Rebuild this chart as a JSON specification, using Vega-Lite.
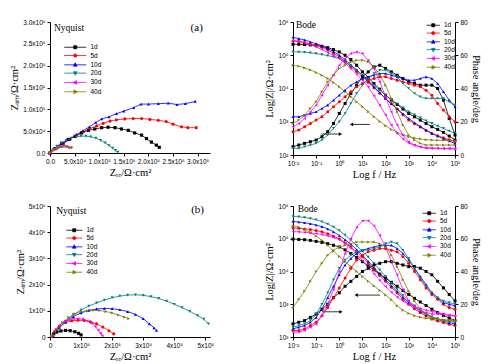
{
"$schema":"https://vega.github.io/schema/vega-lite/v6.json",
"background":"white",
"padding":{"left":9,"top":19,"right":5,"bottom":2},
"datasets":{
"nyqA":[
{"s":"1d","x":0,"y":0},{"s":"1d","x":10000,"y":10000},{"s":"1d","x":24000,"y":22000},{"s":"1d","x":37000,"y":31000},{"s":"1d","x":51000,"y":38000},{"s":"1d","x":64000,"y":46000},{"s":"1d","x":78000,"y":52000},{"s":"1d","x":91000,"y":55000},{"s":"1d","x":105000,"y":58000},{"s":"1d","x":118000,"y":59000},{"s":"1d","x":132000,"y":58000},{"s":"1d","x":145000,"y":55000},{"s":"1d","x":159000,"y":52000},{"s":"1d","x":172000,"y":46000},{"s":"1d","x":186000,"y":41000},{"s":"1d","x":196000,"y":33000},{"s":"1d","x":206000,"y":25000},{"s":"1d","x":216000,"y":18000},{"s":"1d","x":222000,"y":13000},
{"s":"5d","x":0,"y":0},{"s":"5d","x":13500,"y":11500},{"s":"5d","x":27000,"y":21500},{"s":"5d","x":40500,"y":31500},{"s":"5d","x":54000,"y":41000},{"s":"5d","x":68000,"y":48500},{"s":"5d","x":81000,"y":56000},{"s":"5d","x":95000,"y":62500},{"s":"5d","x":108000,"y":68000},{"s":"5d","x":122000,"y":73000},{"s":"5d","x":135000,"y":76000},{"s":"5d","x":152000,"y":78000},{"s":"5d","x":169000,"y":79000},{"s":"5d","x":186000,"y":79000},{"s":"5d","x":203000,"y":77000},{"s":"5d","x":220000,"y":75000},{"s":"5d","x":236000,"y":72000},{"s":"5d","x":250000,"y":66000},{"s":"5d","x":267000,"y":60000},{"s":"5d","x":280000,"y":58000},{"s":"5d","x":297000,"y":58000},
{"s":"10d","x":0,"y":0},{"s":"10d","x":13000,"y":12000},{"s":"10d","x":27000,"y":22000},{"s":"10d","x":40000,"y":32000},{"s":"10d","x":54000,"y":42000},{"s":"10d","x":67000,"y":51000},{"s":"10d","x":80000,"y":60000},{"s":"10d","x":93000,"y":70000},{"s":"10d","x":105000,"y":78000},{"s":"10d","x":120000,"y":83000},{"s":"10d","x":135000,"y":90000},{"s":"10d","x":150000,"y":96000},{"s":"10d","x":170000,"y":104000},{"s":"10d","x":185000,"y":112000},{"s":"10d","x":200000,"y":112000},{"s":"10d","x":220000,"y":113000},{"s":"10d","x":240000,"y":114000},{"s":"10d","x":258000,"y":111000},{"s":"10d","x":275000,"y":113000},{"s":"10d","x":295000,"y":118000},
{"s":"20d","x":0,"y":0},{"s":"20d","x":6000,"y":8000},{"s":"20d","x":14000,"y":16000},{"s":"20d","x":23000,"y":23000},{"s":"20d","x":33000,"y":29000},{"s":"20d","x":43000,"y":34000},{"s":"20d","x":53000,"y":37000},{"s":"20d","x":63000,"y":38500},{"s":"20d","x":73000,"y":38500},{"s":"20d","x":83000,"y":37000},{"s":"20d","x":93000,"y":34000},{"s":"20d","x":103000,"y":29000},{"s":"20d","x":112000,"y":23000},{"s":"20d","x":120000,"y":17000},{"s":"20d","x":127000,"y":11000},{"s":"20d","x":133000,"y":6000},{"s":"20d","x":138000,"y":2000},
{"s":"30d","x":0,"y":0},{"s":"30d","x":4000,"y":5000},{"s":"30d","x":8000,"y":8000},{"s":"30d","x":12000,"y":11000},{"s":"30d","x":16000,"y":13000},{"s":"30d","x":20000,"y":15000},{"s":"30d","x":25000,"y":16000},{"s":"30d","x":30000,"y":16000},{"s":"30d","x":34000,"y":15000},{"s":"30d","x":38000,"y":13000},{"s":"30d","x":42000,"y":12000},
{"s":"40d","x":0,"y":0},{"s":"40d","x":5000,"y":5000},{"s":"40d","x":10000,"y":8000},{"s":"40d","x":15000,"y":11000},{"s":"40d","x":20000,"y":13000},{"s":"40d","x":25000,"y":14000},{"s":"40d","x":30000,"y":15000},{"s":"40d","x":35000,"y":14000},{"s":"40d","x":40000,"y":13000},{"s":"40d","x":45000,"y":13000}
],
"nyqB":[
{"s":"1d","x":5000,"y":2000},{"s":"1d","x":12000,"y":12000},{"s":"1d","x":22000,"y":19000},{"s":"1d","x":35000,"y":23000},{"s":"1d","x":50000,"y":25000},{"s":"1d","x":65000,"y":24000},{"s":"1d","x":80000,"y":20000},{"s":"1d","x":92000,"y":14000},{"s":"1d","x":100000,"y":8000},
{"s":"5d","x":5000,"y":3000},{"s":"5d","x":15000,"y":20000},{"s":"5d","x":30000,"y":40000},{"s":"5d","x":50000,"y":55000},{"s":"5d","x":70000,"y":62000},{"s":"5d","x":90000,"y":64000},{"s":"5d","x":110000,"y":63000},{"s":"5d","x":130000,"y":58000},{"s":"5d","x":150000,"y":50000},{"s":"5d","x":170000,"y":38000},{"s":"5d","x":190000,"y":24000},{"s":"5d","x":205000,"y":12000},
{"s":"10d","x":10000,"y":5000},{"s":"10d","x":30000,"y":35000},{"s":"10d","x":50000,"y":58000},{"s":"10d","x":75000,"y":78000},{"s":"10d","x":100000,"y":92000},{"s":"10d","x":125000,"y":102000},{"s":"10d","x":150000,"y":107000},{"s":"10d","x":175000,"y":109000},{"s":"10d","x":200000,"y":108000},{"s":"10d","x":225000,"y":104000},{"s":"10d","x":250000,"y":97000},{"s":"10d","x":275000,"y":86000},{"s":"10d","x":300000,"y":70000},{"s":"10d","x":320000,"y":50000},{"s":"10d","x":335000,"y":35000},{"s":"10d","x":343000,"y":25000},
{"s":"20d","x":10000,"y":5000},{"s":"20d","x":30000,"y":35000},{"s":"20d","x":50000,"y":60000},{"s":"20d","x":75000,"y":85000},{"s":"20d","x":100000,"y":103000},{"s":"20d","x":125000,"y":118000},{"s":"20d","x":150000,"y":130000},{"s":"20d","x":175000,"y":141000},{"s":"20d","x":200000,"y":150000},{"s":"20d","x":225000,"y":156000},{"s":"20d","x":250000,"y":160000},{"s":"20d","x":275000,"y":161000},{"s":"20d","x":300000,"y":159000},{"s":"20d","x":325000,"y":154000},{"s":"20d","x":350000,"y":147000},{"s":"20d","x":375000,"y":137000},{"s":"20d","x":400000,"y":125000},{"s":"20d","x":425000,"y":112000},{"s":"20d","x":450000,"y":98000},{"s":"20d","x":475000,"y":82000},{"s":"20d","x":495000,"y":68000},{"s":"20d","x":510000,"y":50000},
{"s":"30d","x":5000,"y":3000},{"s":"30d","x":15000,"y":25000},{"s":"30d","x":30000,"y":45000},{"s":"30d","x":45000,"y":58000},{"s":"30d","x":60000,"y":66000},{"s":"30d","x":75000,"y":70000},{"s":"30d","x":90000,"y":70000},{"s":"30d","x":105000,"y":68000},{"s":"30d","x":120000,"y":62000},{"s":"30d","x":135000,"y":52000},{"s":"30d","x":145000,"y":40000},{"s":"30d","x":155000,"y":27000},{"s":"30d","x":162000,"y":15000},{"s":"30d","x":168000,"y":5000},
{"s":"40d","x":5000,"y":5000},{"s":"40d","x":20000,"y":30000},{"s":"40d","x":40000,"y":55000},{"s":"40d","x":60000,"y":75000},{"s":"40d","x":80000,"y":88000},{"s":"40d","x":100000,"y":96000},{"s":"40d","x":120000,"y":100000},{"s":"40d","x":140000,"y":102000},{"s":"40d","x":160000,"y":101000},{"s":"40d","x":180000,"y":97000},{"s":"40d","x":200000,"y":92000},{"s":"40d","x":220000,"y":84000},{"s":"40d","x":240000,"y":76000},{"s":"40d","x":253000,"y":70000}
],
"bodeA":[
{"s":"1d","f":-2,"z":5.33,"p":5},{"s":"1d","f":-1.75,"z":5.33,"p":6},{"s":"1d","f":-1.5,"z":5.32,"p":7},{"s":"1d","f":-1.25,"z":5.31,"p":8},{"s":"1d","f":-1,"z":5.3,"p":9},{"s":"1d","f":-0.75,"z":5.27,"p":11},{"s":"1d","f":-0.5,"z":5.23,"p":14},{"s":"1d","f":-0.25,"z":5.17,"p":19},{"s":"1d","f":0,"z":5.1,"p":25},{"s":"1d","f":0.25,"z":5.0,"p":31},{"s":"1d","f":0.5,"z":4.87,"p":37},{"s":"1d","f":0.75,"z":4.7,"p":42},{"s":"1d","f":1,"z":4.5,"p":47},{"s":"1d","f":1.25,"z":4.33,"p":50},{"s":"1d","f":1.5,"z":4.15,"p":53},{"s":"1d","f":1.75,"z":3.98,"p":54},{"s":"1d","f":2,"z":3.8,"p":52},{"s":"1d","f":2.25,"z":3.65,"p":50},{"s":"1d","f":2.5,"z":3.52,"p":48},{"s":"1d","f":2.75,"z":3.38,"p":46},{"s":"1d","f":3,"z":3.25,"p":44},{"s":"1d","f":3.25,"z":3.15,"p":43},{"s":"1d","f":3.5,"z":3.05,"p":42},{"s":"1d","f":3.75,"z":2.95,"p":42},{"s":"1d","f":4,"z":2.85,"p":42},{"s":"1d","f":4.25,"z":2.77,"p":40},{"s":"1d","f":4.5,"z":2.68,"p":33},{"s":"1d","f":4.75,"z":2.57,"p":22},{"s":"1d","f":5,"z":2.45,"p":12},
{"s":"5d","f":-2,"z":5.43,"p":14},{"s":"5d","f":-1.75,"z":5.41,"p":15},{"s":"5d","f":-1.5,"z":5.38,"p":17},{"s":"5d","f":-1.25,"z":5.34,"p":19},{"s":"5d","f":-1,"z":5.3,"p":21},{"s":"5d","f":-0.75,"z":5.24,"p":23},{"s":"5d","f":-0.5,"z":5.16,"p":26},{"s":"5d","f":-0.25,"z":5.06,"p":29},{"s":"5d","f":0,"z":4.95,"p":32},{"s":"5d","f":0.25,"z":4.81,"p":35},{"s":"5d","f":0.5,"z":4.66,"p":38},{"s":"5d","f":0.75,"z":4.51,"p":41},{"s":"5d","f":1,"z":4.35,"p":43},{"s":"5d","f":1.25,"z":4.19,"p":45},{"s":"5d","f":1.5,"z":4.02,"p":46},{"s":"5d","f":1.75,"z":3.86,"p":47},{"s":"5d","f":2,"z":3.7,"p":47},{"s":"5d","f":2.25,"z":3.54,"p":46},{"s":"5d","f":2.5,"z":3.38,"p":45},{"s":"5d","f":2.75,"z":3.21,"p":44},{"s":"5d","f":3,"z":3.05,"p":43},{"s":"5d","f":3.25,"z":2.94,"p":42},{"s":"5d","f":3.5,"z":2.84,"p":41},{"s":"5d","f":3.75,"z":2.74,"p":39},{"s":"5d","f":4,"z":2.65,"p":36},{"s":"5d","f":4.25,"z":2.58,"p":31},{"s":"5d","f":4.5,"z":2.52,"p":27},{"s":"5d","f":4.75,"z":2.46,"p":23},{"s":"5d","f":5,"z":2.4,"p":20},
{"s":"10d","f":-2,"z":5.54,"p":23},{"s":"10d","f":-1.75,"z":5.5,"p":23},{"s":"10d","f":-1.5,"z":5.46,"p":24},{"s":"10d","f":-1.25,"z":5.4,"p":25},{"s":"10d","f":-1,"z":5.35,"p":26},{"s":"10d","f":-0.75,"z":5.28,"p":28},{"s":"10d","f":-0.5,"z":5.2,"p":30},{"s":"10d","f":-0.25,"z":5.11,"p":33},{"s":"10d","f":0,"z":5.0,"p":36},{"s":"10d","f":0.25,"z":4.86,"p":39},{"s":"10d","f":0.5,"z":4.71,"p":42},{"s":"10d","f":0.75,"z":4.56,"p":44},{"s":"10d","f":1,"z":4.4,"p":46},{"s":"10d","f":1.25,"z":4.22,"p":47},{"s":"10d","f":1.5,"z":4.05,"p":48},{"s":"10d","f":1.75,"z":3.87,"p":49},{"s":"10d","f":2,"z":3.7,"p":49},{"s":"10d","f":2.25,"z":3.54,"p":48},{"s":"10d","f":2.5,"z":3.39,"p":47},{"s":"10d","f":2.75,"z":3.24,"p":46},{"s":"10d","f":3,"z":3.1,"p":45},{"s":"10d","f":3.25,"z":2.97,"p":45},{"s":"10d","f":3.5,"z":2.86,"p":46},{"s":"10d","f":3.75,"z":2.75,"p":47},{"s":"10d","f":4,"z":2.65,"p":46},{"s":"10d","f":4.25,"z":2.57,"p":43},{"s":"10d","f":4.5,"z":2.49,"p":38},{"s":"10d","f":4.75,"z":2.42,"p":33},{"s":"10d","f":5,"z":2.35,"p":29},
{"s":"20d","f":-2,"z":5.1,"p":4},{"s":"20d","f":-1.75,"z":5.1,"p":4},{"s":"20d","f":-1.5,"z":5.09,"p":5},{"s":"20d","f":-1.25,"z":5.07,"p":6},{"s":"20d","f":-1,"z":5.05,"p":7},{"s":"20d","f":-0.75,"z":5.02,"p":9},{"s":"20d","f":-0.5,"z":4.99,"p":12},{"s":"20d","f":-0.25,"z":4.95,"p":16},{"s":"20d","f":0,"z":4.9,"p":20},{"s":"20d","f":0.25,"z":4.8,"p":25},{"s":"20d","f":0.5,"z":4.68,"p":31},{"s":"20d","f":0.75,"z":4.55,"p":37},{"s":"20d","f":1,"z":4.4,"p":42},{"s":"20d","f":1.25,"z":4.25,"p":46},{"s":"20d","f":1.5,"z":4.1,"p":49},{"s":"20d","f":1.75,"z":3.95,"p":51},{"s":"20d","f":2,"z":3.8,"p":51},{"s":"20d","f":2.25,"z":3.67,"p":49},{"s":"20d","f":2.5,"z":3.54,"p":47},{"s":"20d","f":2.75,"z":3.42,"p":43},{"s":"20d","f":3,"z":3.3,"p":40},{"s":"20d","f":3.25,"z":3.21,"p":37},{"s":"20d","f":3.5,"z":3.12,"p":35},{"s":"20d","f":3.75,"z":3.03,"p":34},{"s":"20d","f":4,"z":2.95,"p":34},{"s":"20d","f":4.25,"z":2.87,"p":34},{"s":"20d","f":4.5,"z":2.8,"p":34},{"s":"20d","f":4.75,"z":2.72,"p":32},{"s":"20d","f":5,"z":2.65,"p":30},
{"s":"30d","f":-2,"z":5.45,"p":17},{"s":"30d","f":-1.75,"z":5.42,"p":19},{"s":"30d","f":-1.5,"z":5.38,"p":22},{"s":"30d","f":-1.25,"z":5.32,"p":26},{"s":"30d","f":-1,"z":5.25,"p":30},{"s":"30d","f":-0.75,"z":5.17,"p":36},{"s":"30d","f":-0.5,"z":5.08,"p":42},{"s":"30d","f":-0.25,"z":4.99,"p":48},{"s":"30d","f":0,"z":4.9,"p":54},{"s":"30d","f":0.25,"z":4.76,"p":58},{"s":"30d","f":0.5,"z":4.6,"p":61},{"s":"30d","f":0.75,"z":4.43,"p":62},{"s":"30d","f":1,"z":4.25,"p":61},{"s":"30d","f":1.25,"z":4.05,"p":57},{"s":"30d","f":1.5,"z":3.78,"p":52},{"s":"30d","f":1.75,"z":3.5,"p":44},{"s":"30d","f":2,"z":3.2,"p":35},{"s":"30d","f":2.25,"z":2.9,"p":26},{"s":"30d","f":2.5,"z":2.65,"p":18},{"s":"30d","f":2.75,"z":2.48,"p":12},{"s":"30d","f":3,"z":2.36,"p":8},{"s":"30d","f":3.25,"z":2.29,"p":6},{"s":"30d","f":3.5,"z":2.25,"p":5},{"s":"30d","f":3.75,"z":2.22,"p":4},{"s":"30d","f":4,"z":2.21,"p":4},{"s":"30d","f":4.25,"z":2.2,"p":4},{"s":"30d","f":4.5,"z":2.19,"p":4},{"s":"30d","f":4.75,"z":2.19,"p":4},{"s":"30d","f":5,"z":2.18,"p":4},
{"s":"40d","f":-2,"z":4.7,"p":19},{"s":"40d","f":-1.75,"z":4.67,"p":21},{"s":"40d","f":-1.5,"z":4.62,"p":24},{"s":"40d","f":-1.25,"z":4.56,"p":28},{"s":"40d","f":-1,"z":4.48,"p":32},{"s":"40d","f":-0.75,"z":4.4,"p":38},{"s":"40d","f":-0.5,"z":4.3,"p":44},{"s":"40d","f":-0.25,"z":4.18,"p":48},{"s":"40d","f":0,"z":4.05,"p":52},{"s":"40d","f":0.25,"z":3.9,"p":54},{"s":"40d","f":0.5,"z":3.75,"p":56},{"s":"40d","f":0.75,"z":3.6,"p":57},{"s":"40d","f":1,"z":3.45,"p":57},{"s":"40d","f":1.25,"z":3.3,"p":56},{"s":"40d","f":1.5,"z":3.15,"p":53},{"s":"40d","f":1.75,"z":3.01,"p":48},{"s":"40d","f":2,"z":2.88,"p":42},{"s":"40d","f":2.25,"z":2.77,"p":34},{"s":"40d","f":2.5,"z":2.68,"p":26},{"s":"40d","f":2.75,"z":2.61,"p":18},{"s":"40d","f":3,"z":2.55,"p":12},{"s":"40d","f":3.25,"z":2.51,"p":9},{"s":"40d","f":3.5,"z":2.48,"p":7},{"s":"40d","f":3.75,"z":2.46,"p":6},{"s":"40d","f":4,"z":2.45,"p":6},{"s":"40d","f":4.25,"z":2.44,"p":6},{"s":"40d","f":4.5,"z":2.44,"p":6},{"s":"40d","f":4.75,"z":2.43,"p":6},{"s":"40d","f":5,"z":2.43,"p":6}
],
"bodeB":[
{"s":"1d","f":-2,"z":4.99,"p":8},{"s":"1d","f":-1.75,"z":4.98,"p":9},{"s":"1d","f":-1.5,"z":4.97,"p":10},{"s":"1d","f":-1.25,"z":4.95,"p":12},{"s":"1d","f":-1,"z":4.92,"p":14},{"s":"1d","f":-0.75,"z":4.89,"p":17},{"s":"1d","f":-0.5,"z":4.85,"p":20},{"s":"1d","f":-0.25,"z":4.8,"p":24},{"s":"1d","f":0,"z":4.75,"p":27},{"s":"1d","f":0.25,"z":4.66,"p":31},{"s":"1d","f":0.5,"z":4.55,"p":34},{"s":"1d","f":0.75,"z":4.43,"p":37},{"s":"1d","f":1,"z":4.3,"p":40},{"s":"1d","f":1.25,"z":4.17,"p":42},{"s":"1d","f":1.5,"z":4.05,"p":44},{"s":"1d","f":1.75,"z":3.92,"p":45},{"s":"1d","f":2,"z":3.8,"p":46},{"s":"1d","f":2.25,"z":3.67,"p":46},{"s":"1d","f":2.5,"z":3.55,"p":45},{"s":"1d","f":2.75,"z":3.42,"p":44},{"s":"1d","f":3,"z":3.3,"p":43},{"s":"1d","f":3.25,"z":3.18,"p":43},{"s":"1d","f":3.5,"z":3.07,"p":42},{"s":"1d","f":3.75,"z":2.96,"p":40},{"s":"1d","f":4,"z":2.85,"p":38},{"s":"1d","f":4.25,"z":2.75,"p":34},{"s":"1d","f":4.5,"z":2.66,"p":30},{"s":"1d","f":4.75,"z":2.58,"p":26},{"s":"1d","f":5,"z":2.5,"p":22},
{"s":"5d","f":-2,"z":5.33,"p":4},{"s":"5d","f":-1.75,"z":5.32,"p":4},{"s":"5d","f":-1.5,"z":5.3,"p":5},{"s":"5d","f":-1.25,"z":5.28,"p":7},{"s":"5d","f":-1,"z":5.25,"p":9},{"s":"5d","f":-0.75,"z":5.21,"p":13},{"s":"5d","f":-0.5,"z":5.15,"p":18},{"s":"5d","f":-0.25,"z":5.08,"p":24},{"s":"5d","f":0,"z":5.0,"p":30},{"s":"5d","f":0.25,"z":4.88,"p":36},{"s":"5d","f":0.5,"z":4.75,"p":42},{"s":"5d","f":0.75,"z":4.6,"p":47},{"s":"5d","f":1,"z":4.45,"p":50},{"s":"5d","f":1.25,"z":4.26,"p":52},{"s":"5d","f":1.5,"z":4.07,"p":53},{"s":"5d","f":1.75,"z":3.88,"p":54},{"s":"5d","f":2,"z":3.7,"p":54},{"s":"5d","f":2.25,"z":3.52,"p":53},{"s":"5d","f":2.5,"z":3.34,"p":52},{"s":"5d","f":2.75,"z":3.16,"p":49},{"s":"5d","f":3,"z":3.0,"p":45},{"s":"5d","f":3.25,"z":2.86,"p":40},{"s":"5d","f":3.5,"z":2.74,"p":35},{"s":"5d","f":3.75,"z":2.64,"p":30},{"s":"5d","f":4,"z":2.55,"p":26},{"s":"5d","f":4.25,"z":2.49,"p":23},{"s":"5d","f":4.5,"z":2.44,"p":20},{"s":"5d","f":4.75,"z":2.39,"p":18},{"s":"5d","f":5,"z":2.35,"p":17},
{"s":"10d","f":-2,"z":5.53,"p":5},{"s":"10d","f":-1.75,"z":5.51,"p":6},{"s":"10d","f":-1.5,"z":5.49,"p":7},{"s":"10d","f":-1.25,"z":5.46,"p":9},{"s":"10d","f":-1,"z":5.42,"p":12},{"s":"10d","f":-0.75,"z":5.37,"p":17},{"s":"10d","f":-0.5,"z":5.3,"p":24},{"s":"10d","f":-0.25,"z":5.21,"p":31},{"s":"10d","f":0,"z":5.1,"p":38},{"s":"10d","f":0.25,"z":4.97,"p":44},{"s":"10d","f":0.5,"z":4.83,"p":48},{"s":"10d","f":0.75,"z":4.67,"p":51},{"s":"10d","f":1,"z":4.5,"p":53},{"s":"10d","f":1.25,"z":4.31,"p":54},{"s":"10d","f":1.5,"z":4.12,"p":55},{"s":"10d","f":1.75,"z":3.93,"p":56},{"s":"10d","f":2,"z":3.75,"p":56},{"s":"10d","f":2.25,"z":3.57,"p":56},{"s":"10d","f":2.5,"z":3.39,"p":54},{"s":"10d","f":2.75,"z":3.21,"p":51},{"s":"10d","f":3,"z":3.05,"p":47},{"s":"10d","f":3.25,"z":2.91,"p":42},{"s":"10d","f":3.5,"z":2.79,"p":37},{"s":"10d","f":3.75,"z":2.69,"p":32},{"s":"10d","f":4,"z":2.6,"p":27},{"s":"10d","f":4.25,"z":2.54,"p":24},{"s":"10d","f":4.5,"z":2.48,"p":21},{"s":"10d","f":4.75,"z":2.44,"p":20},{"s":"10d","f":5,"z":2.4,"p":19},
{"s":"20d","f":-2,"z":5.68,"p":6},{"s":"20d","f":-1.75,"z":5.67,"p":7},{"s":"20d","f":-1.5,"z":5.65,"p":8},{"s":"20d","f":-1.25,"z":5.62,"p":10},{"s":"20d","f":-1,"z":5.58,"p":14},{"s":"20d","f":-0.75,"z":5.52,"p":20},{"s":"20d","f":-0.5,"z":5.45,"p":27},{"s":"20d","f":-0.25,"z":5.36,"p":35},{"s":"20d","f":0,"z":5.25,"p":42},{"s":"20d","f":0.25,"z":5.11,"p":47},{"s":"20d","f":0.5,"z":4.96,"p":50},{"s":"20d","f":0.75,"z":4.79,"p":52},{"s":"20d","f":1,"z":4.62,"p":53},{"s":"20d","f":1.25,"z":4.44,"p":53},{"s":"20d","f":1.5,"z":4.25,"p":54},{"s":"20d","f":1.75,"z":4.05,"p":55},{"s":"20d","f":2,"z":3.85,"p":57},{"s":"20d","f":2.25,"z":3.65,"p":58},{"s":"20d","f":2.5,"z":3.45,"p":57},{"s":"20d","f":2.75,"z":3.27,"p":53},{"s":"20d","f":3,"z":3.1,"p":48},{"s":"20d","f":3.25,"z":2.95,"p":42},{"s":"20d","f":3.5,"z":2.82,"p":36},{"s":"20d","f":3.75,"z":2.71,"p":31},{"s":"20d","f":4,"z":2.62,"p":27},{"s":"20d","f":4.25,"z":2.56,"p":24},{"s":"20d","f":4.5,"z":2.51,"p":22},{"s":"20d","f":4.75,"z":2.48,"p":21},{"s":"20d","f":5,"z":2.45,"p":20},
{"s":"30d","f":-2,"z":5.22,"p":3},{"s":"30d","f":-1.75,"z":5.21,"p":3},{"s":"30d","f":-1.5,"z":5.2,"p":4},{"s":"30d","f":-1.25,"z":5.18,"p":6},{"s":"30d","f":-1,"z":5.16,"p":8},{"s":"30d","f":-0.75,"z":5.13,"p":13},{"s":"30d","f":-0.5,"z":5.09,"p":20},{"s":"30d","f":-0.25,"z":5.04,"p":29},{"s":"30d","f":0,"z":4.97,"p":40},{"s":"30d","f":0.25,"z":4.86,"p":51},{"s":"30d","f":0.5,"z":4.72,"p":60},{"s":"30d","f":0.75,"z":4.53,"p":67},{"s":"30d","f":1,"z":4.33,"p":71},{"s":"30d","f":1.25,"z":4.13,"p":71},{"s":"30d","f":1.5,"z":3.93,"p":68},{"s":"30d","f":1.75,"z":3.73,"p":62},{"s":"30d","f":2,"z":3.54,"p":55},{"s":"30d","f":2.25,"z":3.37,"p":46},{"s":"30d","f":2.5,"z":3.22,"p":38},{"s":"30d","f":2.75,"z":3.1,"p":29},{"s":"30d","f":3,"z":3.0,"p":22},{"s":"30d","f":3.25,"z":2.93,"p":18},{"s":"30d","f":3.5,"z":2.87,"p":16},{"s":"30d","f":3.75,"z":2.82,"p":15},{"s":"30d","f":4,"z":2.78,"p":14},{"s":"30d","f":4.25,"z":2.74,"p":14},{"s":"30d","f":4.5,"z":2.7,"p":14},{"s":"30d","f":4.75,"z":2.67,"p":13},{"s":"30d","f":5,"z":2.64,"p":13},
{"s":"40d","f":-2,"z":5.4,"p":18},{"s":"40d","f":-1.75,"z":5.35,"p":23},{"s":"40d","f":-1.5,"z":5.28,"p":28},{"s":"40d","f":-1.25,"z":5.19,"p":34},{"s":"40d","f":-1,"z":5.08,"p":40},{"s":"40d","f":-0.75,"z":4.95,"p":45},{"s":"40d","f":-0.5,"z":4.8,"p":50},{"s":"40d","f":-0.25,"z":4.62,"p":53},{"s":"40d","f":0,"z":4.46,"p":55},{"s":"40d","f":0.25,"z":4.3,"p":56},{"s":"40d","f":0.5,"z":4.15,"p":57},{"s":"40d","f":0.75,"z":4.0,"p":58},{"s":"40d","f":1,"z":3.85,"p":58},{"s":"40d","f":1.25,"z":3.7,"p":58},{"s":"40d","f":1.5,"z":3.56,"p":58},{"s":"40d","f":1.75,"z":3.42,"p":57},{"s":"40d","f":2,"z":3.28,"p":55},{"s":"40d","f":2.25,"z":3.14,"p":50},{"s":"40d","f":2.5,"z":2.95,"p":43},{"s":"40d","f":2.75,"z":2.82,"p":35},{"s":"40d","f":3,"z":2.72,"p":28},{"s":"40d","f":3.25,"z":2.65,"p":22},{"s":"40d","f":3.5,"z":2.6,"p":17},{"s":"40d","f":3.75,"z":2.57,"p":14},{"s":"40d","f":4,"z":2.55,"p":12},{"s":"40d","f":4.25,"z":2.54,"p":11},{"s":"40d","f":4.5,"z":2.53,"p":10},{"s":"40d","f":4.75,"z":2.52,"p":10},{"s":"40d","f":5,"z":2.52,"p":10}
]
},
"columns":2,
"bounds":"flush",
"spacing":{"row":51,"column":83},
"resolve":{"scale":{"color":"independent","shape":"independent"},"legend":{"color":"independent"}},
"concat":[
{
"width":160,"height":131,
"data":{"name":"nyqA"},
"encoding":{
"x":{"field":"x","type":"quantitative","scale":{"domain":[0,325000],"nice":false},"axis":{"values":[0,50000,100000,150000,200000,250000,300000],"labelExpr":"datum.value==0?'0.0':datum.value<100000?format(datum.value/10000,'.1f')+'x10⁴':format(datum.value/100000,'.1f')+'x10⁵'","title":"Zᵣₑ/Ω·cm²"}},
"y":{"field":"y","type":"quantitative","scale":{"domain":[0,300000],"nice":false},"axis":{"values":[0,50000,100000,150000,200000,250000,300000],"labelExpr":"datum.value==0?'0.0':datum.value<100000?format(datum.value/10000,'.1f')+'x10⁴':format(datum.value/100000,'.1f')+'x10⁵'","title":"Zᵢₘ/Ω·cm²"}},
"color":{"field":"s","type":"nominal","scale":{"domain":["1d","5d","10d","20d","30d","40d"],"range":["#000000","#ff0000","#0000ff","#008080","#ff00ff","#808000"]},
"legend":{"title":null,"orient":"top-left","offset":22,"padding":0,"rowPadding":1.3,"labelFontSize":6.5,"labelFont":"Liberation Sans","labelOffset":12,"symbolSize":16,"symbolStrokeWidth":0.8,"symbolOpacity":1,
"encode":{"symbols":{"update":{"shape":{"signal":"datum.value=='1d'?'M-5.5,0H5.5M-0.75,-0.75H0.75V0.75H-0.75Z':datum.value=='5d'?'M-5.5,0H5.5M-0.8,0A0.8,0.8,0,1,0,0.8,0A0.8,0.8,0,1,0,-0.8,0Z':datum.value=='10d'?'M-5.5,0H5.5M0,-1L0.9,0.65H-0.9Z':datum.value=='20d'?'M-5.5,0H5.5M0,1L0.9,-0.65H-0.9Z':datum.value=='30d'?'M-5.5,0H5.5M-1,0L0.65,-0.9V0.9Z':'M-5.5,0H5.5M1,0L-0.65,-0.9V0.9Z'"}}}}}}
},
"layer":[
{"mark":{"type":"line","strokeWidth":0.8}},
{"mark":{"type":"point","filled":true,"size":10,"opacity":1},"encoding":{"shape":{"field":"s","type":"nominal","scale":{"domain":["40d","30d","20d","10d","5d","1d"],"range":["triangle-right","triangle-left","triangle-down","triangle-up","circle","square"]},"legend":null}}},
{"data":{"values":[{"x":8000,"y":287000,"t":"Nyquist"}]},"mark":{"type":"text","align":"left","baseline":"middle","font":"Liberation Serif","fontSize":9.5},"encoding":{"text":{"field":"t"},"color":{"value":"black"}}},
{"data":{"values":[{"x":298000,"y":287000,"t":"(a)"}]},"mark":{"type":"text","align":"center","baseline":"middle","font":"Liberation Serif","fontSize":11},"encoding":{"text":{"field":"t"},"color":{"value":"black"}}}
]
},
{
"width":162,"height":133,
"data":{"name":"bodeA"},
"encoding":{
"x":{"field":"f","type":"quantitative","scale":{"domain":[-2,5],"nice":false},"axis":{"values":[-2,-1,0,1,2,3,4,5],"labelExpr":"'10'+(datum.value<0?'⁻':'')+substring('⁰¹²³⁴⁵⁶',abs(datum.value),abs(datum.value)+1)","title":"Log f / Hz"}},
"color":{"field":"s","type":"nominal","scale":{"domain":["1d","5d","10d","20d","30d","40d"],"range":["#000000","#ff0000","#0000ff","#008080","#ff00ff","#808000"]},
"legend":{"title":null,"orient":"top-right","offset":0,"padding":0,"rowPadding":0.8,"labelFontSize":6.5,"labelFont":"Liberation Sans","labelOffset":7.5,"symbolSize":16,"symbolStrokeWidth":0.8,"symbolOpacity":1,
"encode":{"symbols":{"update":{"shape":{"signal":"datum.value=='1d'?'M-3.3,0H3.3M-0.75,-0.75H0.75V0.75H-0.75Z':datum.value=='5d'?'M-3.3,0H3.3M-0.8,0A0.8,0.8,0,1,0,0.8,0A0.8,0.8,0,1,0,-0.8,0Z':datum.value=='10d'?'M-3.3,0H3.3M0,-1L0.9,0.65H-0.9Z':datum.value=='20d'?'M-3.3,0H3.3M0,1L0.9,-0.65H-0.9Z':datum.value=='30d'?'M-3.3,0H3.3M-1,0L0.65,-0.9V0.9Z':'M-3.3,0H3.3M1,0L-0.65,-0.9V0.9Z'"}}}}}}
},
"layer":[
{"encoding":{"y":{"field":"z","type":"quantitative","scale":{"domain":[2,6],"nice":false},"axis":{"values":[2,3,4,5,6],"labelExpr":"'10'+substring('⁰¹²³⁴⁵⁶',datum.value,datum.value+1)","title":"Log|Z|/Ω·cm²"}}},
"layer":[
{"mark":{"type":"line","strokeWidth":0.8}},
{"mark":{"type":"point","filled":true,"size":9,"opacity":1},"encoding":{"shape":{"field":"s","type":"nominal","scale":{"domain":["40d","30d","20d","10d","5d","1d"],"range":["triangle-right","triangle-left","triangle-down","triangle-up","circle","square"]},"legend":null}}},
{"data":{"values":[{"f":-0.77,"f2":0.05,"z":2.63},{"f":0.53,"f2":1.32,"z":2.92}]},"mark":{"type":"rule","strokeWidth":0.8},"encoding":{"x2":{"field":"f2"},"color":{"value":"black"}}},
{"data":{"values":[{"f":0.05,"z":2.63,"d":"triangle-right"},{"f":0.53,"z":2.92,"d":"triangle-left"}]},"mark":{"type":"point","filled":true,"size":14,"opacity":1},"encoding":{"shape":{"field":"d","type":"nominal","scale":null},"color":{"value":"black"}}},
{"data":{"values":[{"f":-1.87,"z":5.9,"t":"Bode"}]},"mark":{"type":"text","align":"left","baseline":"middle","font":"Liberation Serif","fontSize":9.5},"encoding":{"text":{"field":"t"},"color":{"value":"black"}}}
]},
{"encoding":{"y":{"field":"p","type":"quantitative","scale":{"domain":[0,80],"nice":false},"axis":{"orient":"right","values":[0,20,40,60,80],"title":"Phase angle/deg"}}},
"layer":[
{"mark":{"type":"line","strokeWidth":0.8}},
{"mark":{"type":"point","filled":true,"size":9,"opacity":1},"encoding":{"shape":{"field":"s","type":"nominal","scale":{"domain":["40d","30d","20d","10d","5d","1d"],"range":["triangle-right","triangle-left","triangle-down","triangle-up","circle","square"]},"legend":null}}}
]}
],
"resolve":{"scale":{"y":"independent"}}
},
{
"width":160,"height":131,
"data":{"name":"nyqB"},
"encoding":{
"x":{"field":"x","type":"quantitative","scale":{"domain":[0,515000],"nice":false},"axis":{"values":[0,100000,200000,300000,400000,500000],"labelExpr":"datum.value==0?'0':format(datum.value/100000,'d')+'x10⁵'","title":"Zᵣₑ/Ω·cm²"}},
"y":{"field":"y","type":"quantitative","scale":{"domain":[0,500000],"nice":false},"axis":{"values":[0,100000,200000,300000,400000,500000],"labelExpr":"datum.value==0?'0':format(datum.value/100000,'d')+'x10⁵'","title":"Zᵢₘ/Ω·cm²"}},
"color":{"field":"s","type":"nominal","scale":{"domain":["1d","5d","10d","20d","30d","40d"],"range":["#000000","#ff0000","#0000ff","#008080","#ff00ff","#808000"]},
"legend":{"title":null,"orient":"top-left","offset":21,"padding":0,"rowPadding":0.8,"labelFontSize":6.5,"labelFont":"Liberation Sans","labelOffset":9,"symbolSize":16,"symbolStrokeWidth":0.8,"symbolOpacity":1,
"encode":{"symbols":{"update":{"shape":{"signal":"datum.value=='1d'?'M-4,0H4M-0.75,-0.75H0.75V0.75H-0.75Z':datum.value=='5d'?'M-4,0H4M-0.8,0A0.8,0.8,0,1,0,0.8,0A0.8,0.8,0,1,0,-0.8,0Z':datum.value=='10d'?'M-4,0H4M0,-1L0.9,0.65H-0.9Z':datum.value=='20d'?'M-4,0H4M0,1L0.9,-0.65H-0.9Z':datum.value=='30d'?'M-4,0H4M-1,0L0.65,-0.9V0.9Z':'M-4,0H4M1,0L-0.65,-0.9V0.9Z'"}}}}}}
},
"layer":[
{"mark":{"type":"line","strokeWidth":0.8}},
{"mark":{"type":"point","filled":true,"size":10,"opacity":1},"encoding":{"shape":{"field":"s","type":"nominal","scale":{"domain":["40d","30d","20d","10d","5d","1d"],"range":["triangle-right","triangle-left","triangle-down","triangle-up","circle","square"]},"legend":null}}},
{"data":{"values":[{"x":20000,"y":480000,"t":"Nyquist"}]},"mark":{"type":"text","align":"left","baseline":"middle","font":"Liberation Serif","fontSize":9.5},"encoding":{"text":{"field":"t"},"color":{"value":"black"}}},
{"data":{"values":[{"x":475000,"y":485000,"t":"(b)"}]},"mark":{"type":"text","align":"center","baseline":"middle","font":"Liberation Serif","fontSize":11},"encoding":{"text":{"field":"t"},"color":{"value":"black"}}}
]
},
{
"width":162,"height":131,
"data":{"name":"bodeB"},
"encoding":{
"x":{"field":"f","type":"quantitative","scale":{"domain":[-2,5],"nice":false},"axis":{"values":[-2,-1,0,1,2,3,4,5],"labelExpr":"'10'+(datum.value<0?'⁻':'')+substring('⁰¹²³⁴⁵⁶',abs(datum.value),abs(datum.value)+1)","title":"Log f / Hz"}},
"color":{"field":"s","type":"nominal","scale":{"domain":["1d","5d","10d","20d","30d","40d"],"range":["#000000","#ff0000","#0000ff","#008080","#ff00ff","#808000"]},
"legend":{"title":null,"orient":"top-right","offset":4,"padding":0,"rowPadding":0.8,"labelFontSize":6.5,"labelFont":"Liberation Sans","labelOffset":7.5,"symbolSize":16,"symbolStrokeWidth":0.8,"symbolOpacity":1,
"encode":{"symbols":{"update":{"shape":{"signal":"datum.value=='1d'?'M-3.3,0H3.3M-0.75,-0.75H0.75V0.75H-0.75Z':datum.value=='5d'?'M-3.3,0H3.3M-0.8,0A0.8,0.8,0,1,0,0.8,0A0.8,0.8,0,1,0,-0.8,0Z':datum.value=='10d'?'M-3.3,0H3.3M0,-1L0.9,0.65H-0.9Z':datum.value=='20d'?'M-3.3,0H3.3M0,1L0.9,-0.65H-0.9Z':datum.value=='30d'?'M-3.3,0H3.3M-1,0L0.65,-0.9V0.9Z':'M-3.3,0H3.3M1,0L-0.65,-0.9V0.9Z'"}}}}}}
},
"layer":[
{"encoding":{"y":{"field":"z","type":"quantitative","scale":{"domain":[2,6],"nice":false},"axis":{"values":[2,3,4,5,6],"labelExpr":"'10'+substring('⁰¹²³⁴⁵⁶',datum.value,datum.value+1)","title":"Log|Z|/Ω·cm²"}}},
"layer":[
{"mark":{"type":"line","strokeWidth":0.8}},
{"mark":{"type":"point","filled":true,"size":9,"opacity":1},"encoding":{"shape":{"field":"s","type":"nominal","scale":{"domain":["40d","30d","20d","10d","5d","1d"],"range":["triangle-right","triangle-left","triangle-down","triangle-up","circle","square"]},"legend":null}}},
{"data":{"values":[{"f":-0.75,"f2":0.07,"z":2.77},{"f":0.73,"f2":1.76,"z":3.28}]},"mark":{"type":"rule","strokeWidth":0.8},"encoding":{"x2":{"field":"f2"},"color":{"value":"black"}}},
{"data":{"values":[{"f":0.07,"z":2.77,"d":"triangle-right"},{"f":0.73,"z":3.28,"d":"triangle-left"}]},"mark":{"type":"point","filled":true,"size":14,"opacity":1},"encoding":{"shape":{"field":"d","type":"nominal","scale":null},"color":{"value":"black"}}},
{"data":{"values":[{"f":-1.8,"z":5.9,"t":"Bode"}]},"mark":{"type":"text","align":"left","baseline":"middle","font":"Liberation Serif","fontSize":9.5},"encoding":{"text":{"field":"t"},"color":{"value":"black"}}}
]},
{"encoding":{"y":{"field":"p","type":"quantitative","scale":{"domain":[0,80],"nice":false},"axis":{"orient":"right","values":[0,20,40,60,80],"title":"Phase angle/deg"}}},
"layer":[
{"mark":{"type":"line","strokeWidth":0.8}},
{"mark":{"type":"point","filled":true,"size":9,"opacity":1},"encoding":{"shape":{"field":"s","type":"nominal","scale":{"domain":["40d","30d","20d","10d","5d","1d"],"range":["triangle-right","triangle-left","triangle-down","triangle-up","circle","square"]},"legend":null}}}
]}
],
"resolve":{"scale":{"y":"independent"}}
}
],
"config":{
"view":{"stroke":null},
"font":"Liberation Sans",
"axis":{"labelFont":"Liberation Sans","labelFontSize":6.5,"labelColor":"#000","titleFont":"Liberation Serif","titleFontSize":10.5,"titleFontWeight":"normal","titleColor":"#000","domainColor":"#000","tickColor":"#000","tickSize":3,"grid":false,"labelPadding":2,"titlePadding":3,"labelFlush":false}
}
}
